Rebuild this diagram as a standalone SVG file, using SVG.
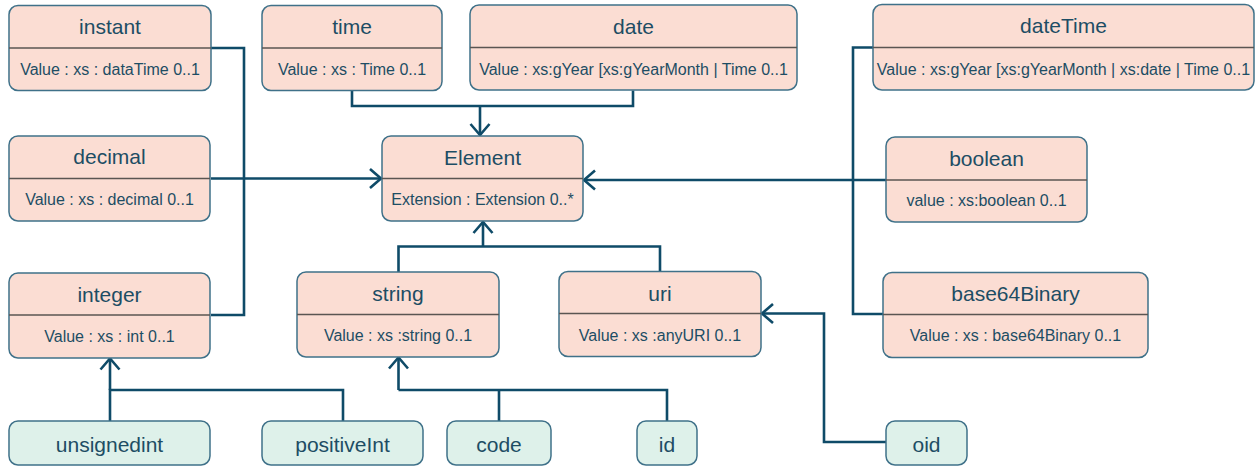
<svg xmlns="http://www.w3.org/2000/svg" width="1256" height="466" viewBox="0 0 1256 466">
  <defs>
    <style>
      .box { fill: #FBDDD3; stroke: #3F7189; stroke-width: 1.5; }
      .leaf { fill: #DEF1EA; stroke: #3F7189; stroke-width: 1.5; }
      .div { stroke: #5A5552; stroke-width: 1.3; }
      .title { font-family: "Liberation Sans", Arial, sans-serif; font-size: 21px; fill: #1D4D64; text-anchor: middle; }
      .attr { font-family: "Liberation Sans", Arial, sans-serif; font-size: 16px; fill: #1D4D64; text-anchor: middle; }
      .wire { fill: none; stroke: #0F4B68; stroke-width: 2.6; stroke-linejoin: miter; }
      .head { marker-end: url(#open); }
    </style>
    <marker id="open" markerUnits="userSpaceOnUse" markerWidth="30" markerHeight="30" viewBox="-15 -15 30 30" refX="0" refY="0" orient="auto">
      <path d="M-11,-9.5 L0,0 L-11,9.5" fill="none" stroke="#0F4B68" stroke-width="2.6"/>
    </marker>
  </defs>

  <!-- connectors -->
  <g id="connectors">
    <!-- instant / decimal / integer bus into Element -->
    <path class="wire" d="M211,48 H244 V315 H211"/>
    <path class="wire head" d="M211,178.5 H381"/>
    <!-- time / date into Element -->
    <path class="wire" d="M352,90.5 V106 H633 V90.5"/>
    <path class="wire head" d="M480,106 V135"/>
    <!-- dateTime / boolean / base64Binary into Element -->
    <path class="wire" d="M873,47.5 H853 V314 H883"/>
    <path class="wire head" d="M887,180 H584"/>
    <!-- string / uri into Element -->
    <path class="wire" d="M398.5,272 V246.5 H660 V272"/>
    <path class="wire head" d="M483,246.5 V222"/>
    <!-- unsignedint / positiveInt into integer -->
    <path class="wire" d="M110,421 V390 H343 V421"/>
    <path class="wire head" d="M110,390 V358.5"/>
    <!-- code / id into string -->
    <path class="wire" d="M398.5,390 H667 V421"/>
    <path class="wire" d="M499,390 V421"/>
    <path class="wire head" d="M398.5,390 V357.5"/>
    <!-- oid into uri -->
    <path class="wire head" d="M886,442 H824 V313.5 H762"/>
  </g>

  <g id="instant">
    <rect class="box" x="9" y="5.5" width="202" height="85" rx="9"/>
    <line class="div" x1="9" y1="48" x2="211" y2="48"/>
    <text class="title" x="110" y="34">instant</text>
    <text class="attr" x="110" y="75">Value : xs : dataTime 0..1</text>
  </g>

  <g id="time">
    <rect class="box" x="262" y="5.5" width="180" height="85" rx="9"/>
    <line class="div" x1="262" y1="48" x2="442" y2="48"/>
    <text class="title" x="352" y="34">time</text>
    <text class="attr" x="352" y="75">Value : xs : Time 0..1</text>
  </g>

  <g id="date">
    <rect class="box" x="470" y="5" width="327" height="85" rx="9"/>
    <line class="div" x1="470" y1="47.5" x2="797" y2="47.5"/>
    <text class="title" x="633.5" y="34">date</text>
    <text class="attr" x="633.5" y="75">Value : xs:gYear [xs:gYearMonth | Time 0..1</text>
  </g>

  <g id="dateTime">
    <rect class="box" x="873" y="4.5" width="381" height="85.5" rx="9"/>
    <line class="div" x1="873" y1="47.5" x2="1254" y2="47.5"/>
    <text class="title" x="1063.5" y="33">dateTime</text>
    <text class="attr" x="1063.5" y="75">Value : xs:gYear [xs:gYearMonth | xs:date | Time 0..1</text>
  </g>

  <g id="decimal">
    <rect class="box" x="9" y="136" width="201" height="85" rx="9"/>
    <line class="div" x1="9" y1="178.5" x2="210" y2="178.5"/>
    <text class="title" x="109.5" y="164">decimal</text>
    <text class="attr" x="109.5" y="205">Value : xs : decimal 0..1</text>
  </g>

  <g id="Element">
    <rect class="box" x="382" y="136" width="201" height="85" rx="9"/>
    <line class="div" x1="382" y1="178.5" x2="583" y2="178.5"/>
    <text class="title" x="482.5" y="165">Element</text>
    <text class="attr" x="482.5" y="205">Extension : Extension 0..*</text>
  </g>

  <g id="boolean">
    <rect class="box" x="886" y="137" width="201" height="85" rx="9"/>
    <line class="div" x1="886" y1="180" x2="1087" y2="180"/>
    <text class="title" x="986.5" y="166">boolean</text>
    <text class="attr" x="986.5" y="206">value : xs:boolean 0..1</text>
  </g>

  <g id="integer">
    <rect class="box" x="9" y="273" width="201" height="85" rx="9"/>
    <line class="div" x1="9" y1="315" x2="210" y2="315"/>
    <text class="title" x="109.5" y="302">integer</text>
    <text class="attr" x="109.5" y="342">Value : xs : int 0..1</text>
  </g>

  <g id="string">
    <rect class="box" x="297" y="272" width="202" height="85" rx="9"/>
    <line class="div" x1="297" y1="314.5" x2="499" y2="314.5"/>
    <text class="title" x="398" y="301">string</text>
    <text class="attr" x="398" y="341">Value : xs :string 0..1</text>
  </g>

  <g id="uri">
    <rect class="box" x="559" y="271.5" width="202" height="85" rx="9"/>
    <line class="div" x1="559" y1="313.5" x2="761" y2="313.5"/>
    <text class="title" x="660" y="301">uri</text>
    <text class="attr" x="660" y="341">Value : xs :anyURI 0..1</text>
  </g>

  <g id="base64Binary">
    <rect class="box" x="883" y="272.5" width="265" height="85" rx="9"/>
    <line class="div" x1="883" y1="314.5" x2="1148" y2="314.5"/>
    <text class="title" x="1015.5" y="301">base64Binary</text>
    <text class="attr" x="1015.5" y="341">Value : xs : base64Binary 0..1</text>
  </g>

  <g id="unsignedint">
    <rect class="leaf" x="9" y="421" width="201" height="44" rx="9"/>
    <text class="title" x="109.5" y="452">unsignedint</text>
  </g>

  <g id="positiveInt">
    <rect class="leaf" x="262" y="421" width="161" height="44" rx="9"/>
    <text class="title" x="342.5" y="452">positiveInt</text>
  </g>

  <g id="code">
    <rect class="leaf" x="447" y="421" width="104" height="44" rx="9"/>
    <text class="title" x="499" y="452">code</text>
  </g>

  <g id="id">
    <rect class="leaf" x="637" y="421" width="60" height="44" rx="9"/>
    <text class="title" x="667" y="452">id</text>
  </g>

  <g id="oid">
    <rect class="leaf" x="886" y="421" width="81" height="44" rx="9"/>
    <text class="title" x="926.5" y="452">oid</text>
  </g>
</svg>
